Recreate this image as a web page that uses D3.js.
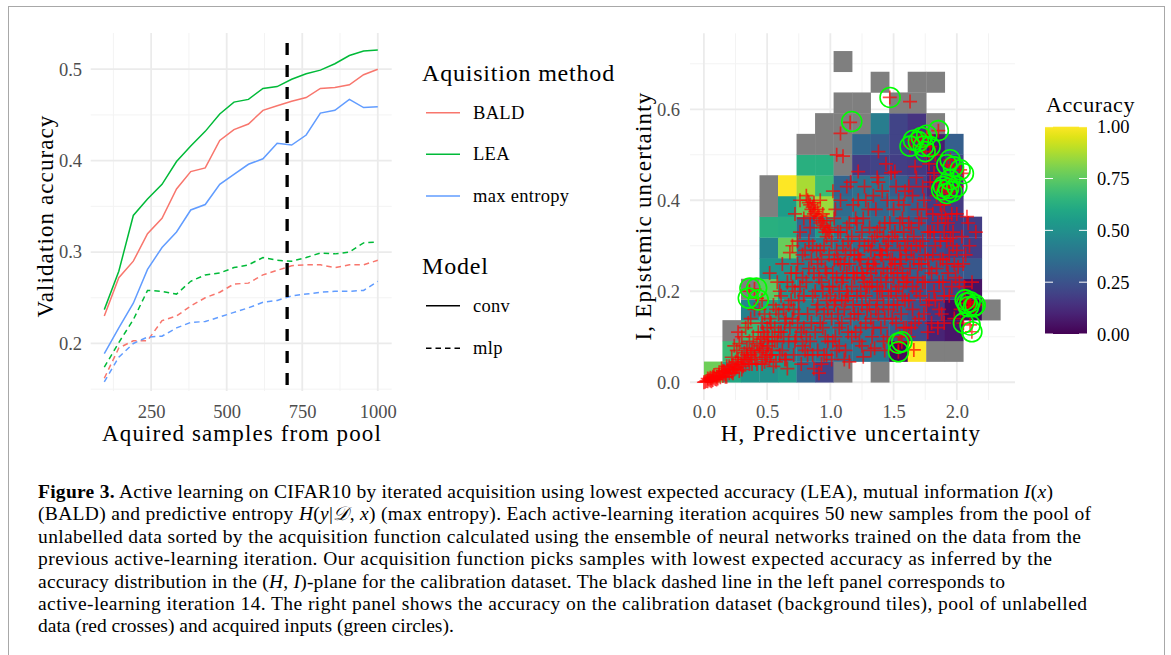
<!DOCTYPE html>
<html>
<head>
<meta charset="utf-8">
<script src="https://cdn.jsdelivr.net/npm/d3@7"></script>
<style>
  body { margin: 0; background: #fff; }
  text { font-family: "Liberation Serif", "DejaVu Serif", serif; }
</style>
</head>
<body>
<svg id="canvas" width="1171" height="655"></svg>
<script>
// ---- left panel data: validation accuracy per acquired samples ----
let samples = [95, 143, 191, 238, 286, 334, 381, 429, 477, 524, 572, 620, 667, 715, 763, 810, 858, 906, 953, 1000]
let baldConv = [0.230, 0.272, 0.290, 0.320, 0.337, 0.369, 0.388, 0.392, 0.422, 0.434, 0.440, 0.455, 0.460, 0.465, 0.469, 0.479, 0.480, 0.483, 0.494, 0.500]
let leaConv = [0.237, 0.279, 0.340, 0.358, 0.374, 0.399, 0.416, 0.432, 0.451, 0.464, 0.467, 0.479, 0.481, 0.489, 0.495, 0.499, 0.506, 0.515, 0.520, 0.521]
let entropyConv = [0.189, 0.217, 0.244, 0.281, 0.305, 0.322, 0.346, 0.352, 0.374, 0.385, 0.396, 0.402, 0.419, 0.417, 0.428, 0.452, 0.455, 0.467, 0.458, 0.459]
let baldMlp = [0.162, 0.195, 0.203, 0.203, 0.225, 0.230, 0.241, 0.250, 0.256, 0.265, 0.266, 0.275, 0.280, 0.285, 0.286, 0.286, 0.283, 0.286, 0.286, 0.291]
let leaMlp = [0.174, 0.201, 0.226, 0.258, 0.257, 0.254, 0.268, 0.275, 0.277, 0.283, 0.286, 0.294, 0.291, 0.290, 0.294, 0.299, 0.298, 0.300, 0.310, 0.311]
let entropyMlp = [0.158, 0.185, 0.200, 0.207, 0.208, 0.217, 0.223, 0.224, 0.229, 0.234, 0.239, 0.245, 0.247, 0.252, 0.254, 0.256, 0.257, 0.257, 0.258, 0.268]
let methods = ['BALD', 'LEA', 'max entropy']
let methodColors = ['#F8766D', '#00BA38', '#619CFF']
let models = ['conv', 'mlp']
let markedIteration = 700
let leftXTicks = [250, 500, 750, 1000]
let leftYTicks = [0.2, 0.3, 0.4, 0.5]

// ---- right panel data: calibration accuracy tiles, rows from I = 0 upward ----
let tileWidthH = 0.1465
let tileHeightI = 0.0455
let accuracyRows = [
  [0.78, 0.60, 0.52, 0.50, 0.55, 0.33, 0.20, 'NA', null, 'NA', null, null, null, null, null, null],
  [null, 0.68, 0.58, 0.50, 0.42, 0.40, 0.38, 0.36, 0.37, 0.38, 0.02, 1.00, 'NA', 'NA', null, null],
  [null, 'NA', 0.68, 0.55, 0.48, 0.42, 0.40, 0.38, 0.36, 0.33, 0.30, 0.22, 0.10, 0.06, null, null],
  [null, null, 0.44, 0.58, 0.48, 0.44, 0.40, 0.37, 0.35, 0.33, 0.30, 0.25, 0.16, 0.03, 0.02, 'NA'],
  [null, null, 'NA', 0.75, 0.50, 0.44, 0.40, 0.38, 0.35, 0.32, 0.30, 0.25, 0.23, 0.20, 0.05, null],
  [null, null, null, 0.52, 0.50, 0.42, 0.40, 0.37, 0.36, 0.33, 0.30, 0.30, 0.30, 0.27, 0.27, null],
  [null, null, null, 0.45, 0.77, 0.40, 0.42, 0.38, 0.36, 0.33, 0.30, 0.26, 0.23, 0.20, 0.18, null],
  [null, null, null, 0.63, 0.62, 0.33, 0.55, 0.40, 0.38, 0.36, 0.33, 0.28, 0.20, 0.17, 0.18, null],
  [null, null, null, 'NA', 0.55, 0.76, 0.85, 0.35, 0.40, 0.33, 0.35, 0.30, 0.18, 0.17, null, null],
  [null, null, null, 'NA', 1.00, 0.87, 0.68, 0.32, 0.37, 0.38, 0.30, 0.22, 0.12, 0.12, null, null],
  [null, null, null, null, null, 0.63, 0.63, 'NA', 0.18, 0.20, 0.18, 0.17, 0.10, 0.20, null, null],
  [null, null, null, null, null, 'NA', 'NA', 'NA', 0.33, 0.30, 0.20, 0.17, 0.08, 0.30, null, null],
  [null, null, null, null, null, null, 'NA', 'NA', 'NA', 0.42, 0.20, 0.15, 'NA', null, null, null],
  [null, null, null, null, null, null, null, 'NA', 'NA', null, 'NA', 'NA', null, null, null, null],
  [null, null, null, null, null, null, null, null, null, 'NA', null, 'NA', 'NA', null, null, null],
  [null, null, null, null, null, null, null, 'NA', null, null, null, null, null, null, null, null]
]

// pool of unlabelled data: [H, I]
let poolPoints = [
  [0.00,0.000],[0.01,0.001],[0.02,0.003],[0.03,0.002],[0.04,0.006],[0.05,0.004],[0.06,0.008],[0.07,0.005],[0.08,0.010],[0.09,0.007],[0.10,0.012],[0.03,0.008],[0.06,0.002],[0.08,0.016],
  [0.11,0.008],[0.12,0.015],[0.13,0.011],[0.14,0.020],[0.15,0.014],[0.16,0.024],[0.17,0.018],[0.18,0.012],[0.19,0.027],[0.20,0.020],[0.14,0.030],[0.18,0.035],
  [0.21,0.030],[0.22,0.022],[0.23,0.038],[0.24,0.028],[0.25,0.045],[0.26,0.033],[0.27,0.050],[0.28,0.025],[0.29,0.040],[0.30,0.055],[0.22,0.055],[0.26,0.070],[0.28,0.085],
  [0.31,0.035],[0.32,0.065],[0.33,0.045],[0.34,0.075],[0.35,0.050],[0.36,0.090],[0.37,0.060],[0.38,0.040],[0.39,0.100],[0.40,0.070],[0.33,0.120],[0.37,0.140],[0.36,0.200],[0.40,0.205],
  [0.41,0.050],[0.42,0.085],[0.43,0.110],[0.44,0.065],[0.45,0.095],[0.46,0.130],[0.47,0.075],[0.48,0.100],[0.49,0.055],[0.50,0.120],[0.44,0.160],[0.48,0.150],[0.42,0.185],
  [0.51,0.080],[0.52,0.140],[0.53,0.060],[0.54,0.100],[0.55,0.170],[0.56,0.120],[0.57,0.045],[0.58,0.090],[0.59,0.150],[0.60,0.200],[0.52,0.240],[0.55,0.035],[0.58,0.220],
  [0.61,0.110],[0.62,0.070],[0.63,0.160],[0.64,0.130],[0.65,0.050],[0.66,0.220],[0.67,0.090],[0.68,0.285],[0.69,0.180],[0.70,0.140],[0.62,0.260],[0.66,0.030],[0.69,0.240],
  [0.71,0.060],[0.72,0.200],[0.73,0.100],[0.74,0.260],[0.75,0.150],[0.76,0.330],[0.77,0.040],[0.78,0.230],[0.79,0.120],[0.80,0.290],[0.72,0.370],[0.75,0.180],[0.78,0.080],[0.74,0.310],
  [0.81,0.410],[0.82,0.400],[0.83,0.395],[0.84,0.390],[0.85,0.380],[0.86,0.385],[0.87,0.370],[0.88,0.375],[0.89,0.360],[0.83,0.250],[0.85,0.130],[0.86,0.300],[0.88,0.200],[0.82,0.060],[0.87,0.030],[0.89,0.160],[0.84,0.340],[0.81,0.100],[0.90,0.260],
  [0.91,0.365],[0.92,0.350],[0.93,0.355],[0.94,0.340],[0.95,0.345],[0.96,0.330],[0.97,0.320],[0.98,0.335],[0.92,0.290],[0.93,0.220],[0.94,0.120],[0.95,0.060],[0.96,0.250],[0.97,0.180],[0.98,0.090],[0.99,0.280],[0.91,0.020],[0.95,0.150],[0.99,0.210],[0.92,0.400],
  [1.01,0.310],[1.02,0.240],[1.03,0.170],[1.04,0.100],[1.05,0.500],[1.06,0.270],[1.07,0.200],[1.08,0.547],[1.09,0.130],[1.10,0.497],[1.01,0.050],[1.03,0.360],[1.05,0.290],[1.07,0.080],[1.08,0.330],[1.02,0.420],[1.06,0.150],[1.09,0.220],[1.04,0.380],[1.10,0.300],
  [1.11,0.260],[1.12,0.180],[1.13,0.340],[1.14,0.110],[1.15,0.045],[1.156,0.571],[1.16,0.290],[1.17,0.210],[1.18,0.390],[1.19,0.150],[1.12,0.070],[1.14,0.310],[1.16,0.440],[1.18,0.240],[1.20,0.360],[1.13,0.200],[1.17,0.100],[1.19,0.280],
  [1.21,0.190],[1.22,0.463],[1.23,0.270],[1.24,0.120],[1.25,0.330],[1.26,0.056],[1.27,0.220],[1.28,0.400],[1.29,0.160],[1.30,0.300],[1.21,0.350],[1.23,0.090],[1.25,0.240],[1.27,0.430],[1.28,0.190],[1.22,0.280],[1.26,0.360],[1.29,0.250],[1.24,0.200],
  [1.31,0.210],[1.32,0.140],[1.33,0.310],[1.34,0.260],[1.35,0.075],[1.36,0.380],[1.37,0.180],[1.38,0.507],[1.39,0.290],[1.40,0.230],[1.31,0.340],[1.33,0.100],[1.35,0.270],[1.36,0.160],[1.38,0.440],[1.40,0.120],[1.32,0.240],[1.37,0.330],[1.39,0.200],[1.34,0.410],
  [1.41,0.280],[1.42,0.170],[1.43,0.350],[1.44,0.220],[1.45,0.100],[1.46,0.310],[1.47,0.626],[1.48,0.250],[1.49,0.140],[1.50,0.380],[1.41,0.420],[1.43,0.070],[1.45,0.290],[1.46,0.190],[1.48,0.460],[1.50,0.230],[1.42,0.320],[1.47,0.350],[1.49,0.270],[1.44,0.480],
  [1.51,0.463],[1.52,0.200],[1.53,0.310],[1.538,0.086],[1.55,0.260],[1.56,0.150],[1.565,0.089],[1.57,0.360],[1.58,0.220],[1.59,0.420],[1.60,0.120],[1.51,0.330],[1.53,0.170],[1.54,0.400],[1.55,0.290],[1.57,0.240],[1.58,0.330],[1.60,0.280],[1.538,0.067],[1.59,0.180],
  [1.61,0.230],[1.62,0.350],[1.63,0.617],[1.64,0.290],[1.65,0.160],[1.66,0.071],[1.67,0.474],[1.68,0.200],[1.69,0.380],[1.70,0.260],[1.62,0.430],[1.64,0.120],[1.66,0.320],[1.68,0.450],[1.70,0.140],[1.63,0.519],[1.657,0.532],[1.696,0.529],
  [1.71,0.300],[1.72,0.538],[1.73,0.220],[1.736,0.519],[1.74,0.400],[1.749,0.507],[1.76,0.170],[1.762,0.543],[1.77,0.330],[1.78,0.250],[1.789,0.518],[1.79,0.440],[1.80,0.130],[1.72,0.360],[1.75,0.280],[1.78,0.480],
  [1.81,0.370],[1.82,0.200],[1.83,0.300],[1.84,0.410],[1.854,0.553],[1.86,0.160],[1.87,0.270],[1.88,0.368],[1.88,0.423],[1.89,0.220],[1.90,0.330],[1.82,0.460],[1.85,0.120],[1.87,0.390],
  [1.894,0.430],[1.921,0.478],[1.921,0.415],[1.934,0.426],[1.947,0.489],[1.947,0.445],[1.95,0.316],[1.96,0.419],[1.973,0.474],[1.92,0.260],[1.94,0.190],[1.97,0.300],[1.98,0.140],[1.93,0.350],[1.99,0.230],[1.96,0.370],
  [2.00,0.430],[2.01,0.254],[2.026,0.467],[2.04,0.320],[2.052,0.459],[2.052,0.130],[2.066,0.181],[2.079,0.174],[2.08,0.364],[2.09,0.350],[2.092,0.166],[2.06,0.210],[2.03,0.160],[2.07,0.280],[2.10,0.300],
  [2.105,0.177],[2.105,0.126],[2.119,0.111],[2.132,0.166],[2.145,0.170],[2.12,0.220],[2.15,0.330],
  // denser core of the cloud
  [0.05,0.010],[0.07,0.012],[0.10,0.006],[0.12,0.022],[0.15,0.025],[0.17,0.012],[0.20,0.035],[0.23,0.020],[0.25,0.030],[0.27,0.040],[0.30,0.028],[0.32,0.050],[0.34,0.060],[0.36,0.040],[0.38,0.070],[0.40,0.055],[0.42,0.040],[0.44,0.080],[0.46,0.070],[0.48,0.045],[0.50,0.090],[0.52,0.050],[0.30,0.100],[0.27,0.110],[0.35,0.130],[0.24,0.080],[0.40,0.160],[0.46,0.180],
  [0.46,0.040],[0.47,0.110],[0.50,0.060],[0.51,0.100],[0.53,0.130],[0.54,0.070],[0.56,0.090],[0.57,0.160],[0.60,0.060],[0.59,0.110],
  [0.61,0.190],[0.63,0.100],[0.64,0.050],[0.65,0.140],[0.67,0.170],[0.68,0.120],[0.70,0.210],[0.71,0.160],[0.72,0.090],[0.73,0.240],[0.74,0.130],[0.76,0.210],[0.77,0.110],[0.79,0.190],[0.80,0.070],[0.78,0.280],[0.70,0.300],[0.76,0.400],[0.79,0.360],
  [0.81,0.220],[0.82,0.150],[0.83,0.310],[0.84,0.090],[0.85,0.270],[0.86,0.190],[0.87,0.240],[0.88,0.110],[0.89,0.290],[0.90,0.170],[0.91,0.230],[0.92,0.130],[0.93,0.270],[0.94,0.200],[0.95,0.300],[0.96,0.100],[0.97,0.240],[0.98,0.160],[0.99,0.330],[1.00,0.190],[0.90,0.070],[0.86,0.060],[0.93,0.040],[0.97,0.060],[0.84,0.365],[0.87,0.395],[0.90,0.380],[0.94,0.370],[0.97,0.355],[1.00,0.340],
  [1.01,0.140],[1.02,0.210],[1.03,0.270],[1.04,0.180],[1.05,0.230],[1.06,0.330],[1.07,0.120],[1.08,0.260],[1.09,0.180],[1.10,0.230],[1.11,0.160],[1.12,0.280],[1.13,0.240],[1.14,0.190],[1.15,0.260],[1.16,0.140],[1.17,0.320],[1.18,0.170],[1.19,0.230],[1.20,0.110],[1.05,0.070],[1.11,0.050],[1.02,0.090],[1.15,0.350],[1.08,0.400],[1.13,0.430],
  [1.21,0.240],[1.22,0.150],[1.23,0.310],[1.24,0.270],[1.25,0.170],[1.26,0.230],[1.27,0.300],[1.28,0.130],[1.29,0.210],[1.30,0.260],[1.31,0.170],[1.32,0.290],[1.33,0.220],[1.34,0.120],[1.35,0.320],[1.36,0.250],[1.37,0.210],[1.38,0.150],[1.39,0.340],[1.40,0.280],[1.25,0.080],[1.32,0.070],[1.30,0.380],[1.22,0.400],[1.37,0.450],
  [1.41,0.200],[1.42,0.250],[1.43,0.140],[1.44,0.300],[1.45,0.240],[1.46,0.160],[1.47,0.270],[1.48,0.200],[1.49,0.320],[1.50,0.170],[1.51,0.260],[1.52,0.130],[1.53,0.240],[1.54,0.210],[1.55,0.350],[1.56,0.270],[1.57,0.190],[1.58,0.120],[1.59,0.300],[1.60,0.220],[1.45,0.400],[1.52,0.430],[1.58,0.390],[1.42,0.090],[1.55,0.100],
  [1.61,0.310],[1.62,0.180],[1.63,0.250],[1.64,0.340],[1.65,0.210],[1.66,0.270],[1.67,0.130],[1.68,0.300],[1.69,0.230],[1.70,0.350],[1.71,0.190],[1.72,0.260],[1.73,0.310],[1.74,0.150],[1.75,0.220],[1.76,0.380],[1.77,0.270],[1.78,0.180],[1.79,0.330],[1.80,0.240],[1.65,0.410],[1.73,0.430],[1.62,0.100],[1.77,0.110],
  [1.81,0.280],[1.82,0.330],[1.83,0.180],[1.84,0.250],[1.85,0.350],[1.86,0.220],[1.87,0.310],[1.88,0.150],[1.89,0.270],[1.90,0.190],[1.91,0.360],[1.92,0.310],[1.93,0.240],[1.94,0.280],[1.96,0.210],[1.97,0.330],[1.98,0.260],[2.00,0.290],[2.02,0.220],[2.05,0.260],[1.84,0.440],[1.90,0.390],[2.00,0.370],[1.83,0.500],[1.90,0.130]
]

// acquired inputs: [H, I]
let acquiredPoints = [
  [1.472,0.626],[1.169,0.573],
  [1.630,0.519],[1.657,0.532],[1.696,0.529],[1.720,0.538],[1.736,0.519],[1.749,0.507],[1.762,0.543],[1.789,0.518],[1.854,0.553],
  [1.921,0.478],[1.947,0.489],[1.973,0.474],[2.026,0.467],[2.052,0.459],[1.947,0.445],[1.894,0.430],[1.934,0.426],[1.960,0.419],[2.000,0.430],[1.921,0.415],[1.880,0.423],
  [0.364,0.207],[0.417,0.207],[0.351,0.185],[0.430,0.181],
  [1.538,0.086],[1.565,0.089],[1.538,0.067],
  [2.066,0.181],[2.105,0.177],[2.145,0.170],[2.092,0.166],[2.052,0.130],[2.105,0.126],[2.119,0.111],[2.132,0.166],[2.079,0.174]
]
let rightXTicks = [0, 0.5, 1.0, 1.5, 2.0]
let rightYTicks = [0, 0.2, 0.4, 0.6]
let colorbarTicks = [0, 0.25, 0.5, 0.75, 1]

let canvas = d3.select('#canvas')
let tickGray = '#4d4d4d'
let gridMajor = '#ebebeb'
let gridMinor = '#f3f3f3'

// figure frame
canvas.append('rect')
  .attr('x', 8.5).attr('y', 6.5)
  .attr('width', 1156).attr('height', 700)
  .attr('fill', 'none').attr('stroke', '#a8a8a8').attr('stroke-width', 1)

// ================= left panel =================
let xLeft = d3.scaleLinear().domain([50, 1046]).range([90.7, 391.7])
let yLeft = d3.scaleLinear().domain([0.148, 0.5396]).range([391, 33])

let drawGrid = (g, xScale, yScale, xMajor, xMinor, yMajor, yMinor) => {
  let [x0, x1] = xScale.range()
  let [y0, y1] = yScale.range()
  g.selectAll('.vminor').data(xMinor).enter().append('line')
    .attr('x1', d => xScale(d)).attr('x2', d => xScale(d)).attr('y1', y0).attr('y2', y1)
    .attr('stroke', gridMinor).attr('stroke-width', 1)
  g.selectAll('.hminor').data(yMinor).enter().append('line')
    .attr('x1', x0).attr('x2', x1).attr('y1', d => yScale(d)).attr('y2', d => yScale(d))
    .attr('stroke', gridMinor).attr('stroke-width', 1)
  g.selectAll('.vmajor').data(xMajor).enter().append('line')
    .attr('x1', d => xScale(d)).attr('x2', d => xScale(d)).attr('y1', y0).attr('y2', y1)
    .attr('stroke', gridMajor).attr('stroke-width', 1.8)
  g.selectAll('.hmajor').data(yMajor).enter().append('line')
    .attr('x1', x0).attr('x2', x1).attr('y1', d => yScale(d)).attr('y2', d => yScale(d))
    .attr('stroke', gridMajor).attr('stroke-width', 1.8)
}

let leftGrid = canvas.append('g')
drawGrid(leftGrid, xLeft, yLeft, leftXTicks, [125, 375, 625, 875], leftYTicks, [0.15, 0.25, 0.35, 0.45])

let styleAxis = (g, size) => {
  g.select('.domain').remove()
  g.selectAll('line').remove()
  g.selectAll('text').attr('fill', tickGray).style('font-size', size + 'px')
    .style('font-family', '"Liberation Serif", serif')
}

canvas.append('g').attr('transform', 'translate(0,400)')
  .call(d3.axisBottom(xLeft).tickValues(leftXTicks).tickSize(0).tickPadding(5).tickFormat(d3.format('d')))
  .call(g => styleAxis(g, 18.5))
canvas.append('g').attr('transform', 'translate(82,0)')
  .call(d3.axisLeft(yLeft).tickValues(leftYTicks).tickSize(0).tickPadding(0).tickFormat(d3.format('.1f')))
  .call(g => styleAxis(g, 18.5))

let seriesList = [
  { values: baldConv, method: 0, model: 0 },
  { values: leaConv, method: 1, model: 0 },
  { values: entropyConv, method: 2, model: 0 },
  { values: baldMlp, method: 0, model: 1 },
  { values: leaMlp, method: 1, model: 1 },
  { values: entropyMlp, method: 2, model: 1 }
]
let lineGen = d3.line().x((d, i) => xLeft(samples[i])).y(d => yLeft(d))
canvas.append('g').selectAll('path')
  .data(seriesList)
  .enter()
  .append('path')
  .attr('d', s => lineGen(s.values))
  .attr('fill', 'none')
  .attr('stroke', s => methodColors[s.method])
  .attr('stroke-width', 1.5)
  .attr('stroke-dasharray', s => s.model === 1 ? '5.5,4' : null)

canvas.append('line')
  .attr('x1', xLeft(markedIteration)).attr('x2', xLeft(markedIteration))
  .attr('y1', 43).attr('y2', 391)
  .attr('stroke', '#000').attr('stroke-width', 3.3)
  .attr('stroke-dasharray', '12,10')

canvas.append('text').attr('x', 242).attr('y', 441)
  .attr('text-anchor', 'middle').style('font-size', '23px').style('letter-spacing', '1.1px')
  .text('Aquired samples from pool')
canvas.append('text').attr('transform', 'translate(53,216) rotate(-90)')
  .attr('text-anchor', 'middle').style('font-size', '23px').style('letter-spacing', '1.1px')
  .text('Validation accuracy')

// legend
let legend = canvas.append('g')
legend.append('text').attr('x', 422).attr('y', 81).style('font-size', '24px').style('letter-spacing', '0.8px')
  .text('Aquisition method')
let methodY = [112.7, 154.3, 196]
methods.forEach((m, i) => {
  legend.append('line').attr('x1', 426).attr('x2', 460).attr('y1', methodY[i]).attr('y2', methodY[i])
    .attr('stroke', methodColors[i]).attr('stroke-width', 1.5)
  legend.append('text').attr('x', 473).attr('y', methodY[i] + 6).style('font-size', '18.5px').style('letter-spacing', '0.3px').text(m)
})
legend.append('text').attr('x', 422).attr('y', 274).style('font-size', '24px').style('letter-spacing', '0.8px').text('Model')
let modelY = [305.7, 348.3]
models.forEach((m, i) => {
  legend.append('line').attr('x1', 426).attr('x2', 460).attr('y1', modelY[i]).attr('y2', modelY[i])
    .attr('stroke', '#000').attr('stroke-width', 1.5)
    .attr('stroke-dasharray', i === 1 ? '5.5,4' : null)
  legend.append('text').attr('x', 473).attr('y', modelY[i] + 6).style('font-size', '18.5px').style('letter-spacing', '0.3px').text(m)
})

// ================= right panel =================
let xRight = d3.scaleLinear().domain([-0.11, 2.46]).range([690, 1015])
let yRight = d3.scaleLinear().domain([-0.039, 0.767]).range([400, 33.3])

let rightGrid = canvas.append('g')
drawGrid(rightGrid, xRight, yRight, rightXTicks, [0.25, 0.75, 1.25, 1.75, 2.25], rightYTicks, [0.1, 0.3, 0.5, 0.7])

let tiles = []
accuracyRows.forEach((row, r) => {
  row.forEach((acc, c) => {
    if (acc !== null) tiles.push({ h: c * tileWidthH, i: r * tileHeightI, acc: acc })
  })
})
canvas.append('g').selectAll('rect')
  .data(tiles)
  .enter()
  .append('rect')
  .attr('x', d => xRight(d.h))
  .attr('y', d => yRight(d.i + tileHeightI))
  .attr('width', d => xRight(d.h + tileWidthH) - xRight(d.h) + 0.3)
  .attr('height', d => yRight(d.i) - yRight(d.i + tileHeightI) + 0.3)
  .attr('fill', d => d.acc === 'NA' ? '#7f7f7f' : d3.interpolateViridis(d.acc))

canvas.append('g').selectAll('path')
  .data(poolPoints)
  .enter()
  .append('path')
  .attr('transform', d => `translate(${xRight(d[0])},${yRight(d[1])})`)
  .attr('d', 'M-7,0H7M0,-7V7')
  .attr('stroke', '#ff0000')
  .attr('stroke-opacity', 0.7)
  .attr('stroke-width', 1.7)
  .attr('fill', 'none')

canvas.append('g').selectAll('circle')
  .data(acquiredPoints)
  .enter()
  .append('circle')
  .attr('cx', d => xRight(d[0]))
  .attr('cy', d => yRight(d[1]))
  .attr('r', 10)
  .attr('fill', 'none')
  .attr('stroke', '#00ff00')
  .attr('stroke-width', 1.6)

canvas.append('g').attr('transform', 'translate(0,400)')
  .call(d3.axisBottom(xRight).tickValues(rightXTicks).tickSize(0).tickPadding(5).tickFormat(d3.format('.1f')))
  .call(g => styleAxis(g, 18.5))
canvas.append('g').attr('transform', 'translate(680,0)')
  .call(d3.axisLeft(yRight).tickValues(rightYTicks).tickSize(0).tickPadding(0).tickFormat(d3.format('.1f')))
  .call(g => styleAxis(g, 18.5))

canvas.append('text').attr('x', 851).attr('y', 441)
  .attr('text-anchor', 'middle').style('font-size', '23px').style('letter-spacing', '1.2px')
  .text('H, Predictive uncertainty')
canvas.append('text').attr('transform', 'translate(651,216) rotate(-90)')
  .attr('text-anchor', 'middle').style('font-size', '23px').style('letter-spacing', '1.2px')
  .text('I, Epistemic uncertainty')

// colorbar
let barTop = 126.7, barBottom = 334, barLeft = 1045, barRight = 1087
let cScale = d3.scaleLinear().domain([0, 1]).range([barBottom, barTop])
let grad = canvas.append('defs').append('linearGradient')
  .attr('id', 'viridisGrad').attr('x1', 0).attr('x2', 0).attr('y1', 1).attr('y2', 0)
d3.range(0, 1.0001, 0.05).forEach(t => {
  grad.append('stop').attr('offset', t).attr('stop-color', d3.interpolateViridis(t))
})
canvas.append('rect').attr('x', barLeft).attr('y', barTop)
  .attr('width', barRight - barLeft).attr('height', barBottom - barTop)
  .attr('fill', 'url(#viridisGrad)')
canvas.append('g').selectAll('line.tl')
  .data(colorbarTicks).enter().append('line')
  .attr('x1', barLeft).attr('x2', barLeft + 8).attr('y1', d => cScale(d)).attr('y2', d => cScale(d))
  .attr('stroke', '#fff').attr('stroke-width', 1)
canvas.append('g').selectAll('line.tr')
  .data(colorbarTicks).enter().append('line')
  .attr('x1', barRight - 8).attr('x2', barRight).attr('y1', d => cScale(d)).attr('y2', d => cScale(d))
  .attr('stroke', '#fff').attr('stroke-width', 1)
canvas.append('g').selectAll('text')
  .data(colorbarTicks).enter().append('text')
  .attr('x', 1097).attr('y', d => cScale(d) + 6.5)
  .style('font-size', '18.5px')
  .text(d => d3.format('.2f')(d))
canvas.append('text').attr('x', 1046).attr('y', 112).style('font-size', '22px').style('letter-spacing', '0.6px').text('Accuracy')

// ================= caption =================
let captionLines = [
  [{ t: 'Figure 3.', b: true }, { t: ' Active learning on CIFAR10 by iterated acquisition using lowest expected accuracy (LEA), mutual information ' }, { t: 'I', i: true }, { t: '(' }, { t: 'x', i: true }, { t: ')' }],
  [{ t: '(BALD) and predictive entropy ' }, { t: 'H', i: true }, { t: '(' }, { t: 'y', i: true }, { t: '|' }, { t: '\uD835\uDC9F', i: true }, { t: ', ' }, { t: 'x', i: true }, { t: ') (max entropy). Each active-learning iteration acquires 50 new samples from the pool of' }],
  [{ t: 'unlabelled data sorted by the acquisition function calculated using the ensemble of neural networks trained on the data from the' }],
  [{ t: 'previous active-learning iteration. Our acquisition function picks samples with lowest expected accuracy as inferred by the' }],
  [{ t: 'accuracy distribution in the (' }, { t: 'H', i: true }, { t: ', ' }, { t: 'I', i: true }, { t: ')-plane for the calibration dataset. The black dashed line in the left panel corresponds to' }],
  [{ t: 'active-learning iteration 14. The right panel shows the accuracy on the calibration dataset (background tiles), pool of unlabelled' }],
  [{ t: 'data (red crosses) and acquired inputs (green circles).' }]
]
let captionEnds = [1053, 1091, 1081, 1052, 1005, 1087, null]
let captionTop = 498
let captionStep = 22.4

captionLines.forEach((parts, k) => {
  let txt = canvas.append('text')
    .attr('x', 38).attr('y', captionTop + k * captionStep)
    .style('font-size', '19.5px')
  if (captionEnds[k] !== null) {
    txt.attr('textLength', captionEnds[k] - 38).attr('lengthAdjust', 'spacing')
  }
  parts.forEach(p => {
    txt.append('tspan')
      .style('font-weight', p.b ? 'bold' : null)
      .style('font-style', p.i ? 'italic' : null)
      .text(p.t)
  })
})
</script>
</body>
</html>
